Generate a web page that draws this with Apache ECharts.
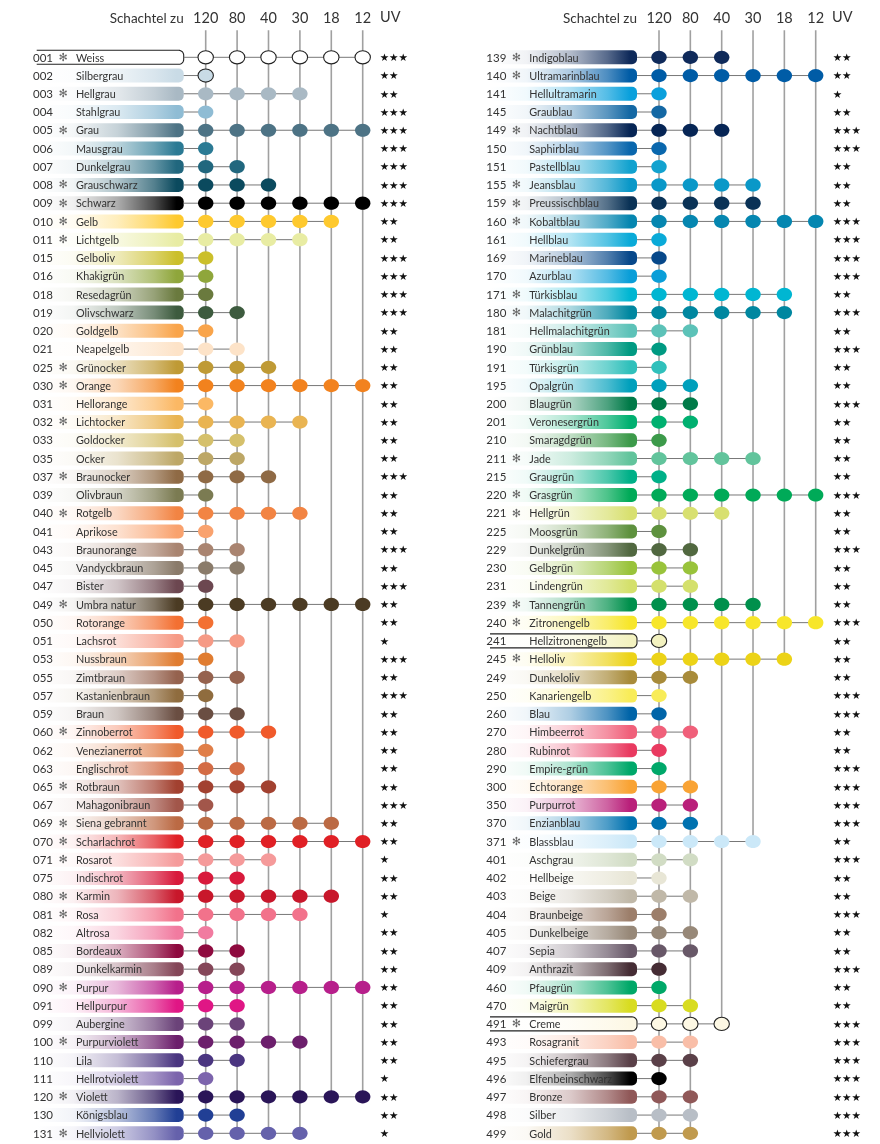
<!DOCTYPE html>
<html><head><meta charset="utf-8">
<script src="https://cdn.jsdelivr.net/npm/echarts@6/dist/echarts.min.js"></script>
<style>html,body{margin:0;padding:0;background:#fff}#c{width:880px;height:1144px}</style>
</head><body><div id="c"></div>
<script>
// ---------- DATA ----------
const boxLabels = ['120','80','40','30','18','12'];

const leftCodes = ['001','002','003','004','005','006','007','008','009','010','011','015','016','018','019','020','021','025','030','031','032','033','035','037','039','040','041','043','045','047','049','050','051','053','055','057','059','060','062','063','065','067','069','070','071','075','080','081','082','085','089','090','091','099','100','110','111','120','130','131'];
const leftNames = ['Weiss','Silbergrau','Hellgrau','Stahlgrau','Grau','Mausgrau','Dunkelgrau','Grauschwarz','Schwarz','Gelb','Lichtgelb','Gelboliv','Khakigrün','Resedagrün','Olivschwarz','Goldgelb','Neapelgelb','Grünocker','Orange','Hellorange','Lichtocker','Goldocker','Ocker','Braunocker','Olivbraun','Rotgelb','Aprikose','Braunorange','Vandyckbraun','Bister','Umbra natur','Rotorange','Lachsrot','Nussbraun','Zimtbraun','Kastanienbraun','Braun','Zinnoberrot','Venezianerrot','Englischrot','Rotbraun','Mahagonibraun','Siena gebrannt','Scharlachrot','Rosarot','Indischrot','Karmin','Rosa','Altrosa','Bordeaux','Dunkelkarmin','Purpur','Hellpurpur','Aubergine','Purpurviolett','Lila','Hellrotviolett','Violett','Königsblau','Hellviolett'];
const leftNew = [1,0,1,0,1,0,0,1,1,1,1,0,0,0,0,0,0,1,1,0,1,0,0,1,0,1,0,0,0,0,1,0,0,0,0,0,0,1,0,0,1,0,1,1,1,0,1,1,0,0,0,1,0,0,1,0,0,1,0,1];
const leftBoxes = [6,1,4,1,6,1,2,3,6,5,4,1,1,1,2,1,2,3,6,1,4,2,2,3,1,4,1,2,2,1,6,1,2,1,2,1,2,3,1,2,3,1,5,6,3,2,5,4,1,2,2,6,2,2,4,2,1,6,2,4];
const leftUV = [3,2,2,3,3,3,3,3,3,2,2,3,3,3,3,2,2,2,2,2,2,2,2,3,2,2,2,3,2,3,2,2,1,3,2,3,2,2,2,2,2,3,2,2,1,2,2,1,2,2,2,2,2,2,2,2,1,2,2,1];
const leftColors = ['#ffffff','#c9dbe6','#a9b9c4','#8fbcd4','#4d7385','#2b7a94','#21677e','#0b4a5e','#000000','#fec92e','#e8eca3','#cbbf2b','#8fa63b','#6a7a3e','#3d5b3e','#f9a44a','#fde3c8','#bf9a35','#f2821e','#fbb864','#e9b452','#d5c06b','#bda766','#8f6a45','#7b7b52','#f28443','#f9a26e','#a98470','#8a7b6a','#6c4750','#4b3b23','#f37032','#f69a85','#e07c30','#95624e','#8f6c3e','#6a4e42','#f05a2b','#e07e48','#d36c45','#a24130','#a2564a','#bb6a44','#e02025','#f59a9a','#d81a3c','#c8172b','#f2728b','#f17ba0','#8e0a3f','#844658','#b71f8b','#e01685','#6b4379','#6c1f6c','#4a3580','#7c64ac','#2a1558','#213f95','#6561ab'];

const rightCodes = ['139','140','141','145','149','150','151','155','159','160','161','169','170','171','180','181','190','191','195','200','201','210','211','215','220','221','225','229','230','231','239','240','241','245','249','250','260','270','280','290','300','350','370','371','401','402','403','404','405','407','409','460','470','491','493','495','496','497','498','499'];
const rightNames = ['Indigoblau','Ultramarinblau','Hellultramarin','Graublau','Nachtblau','Saphirblau','Pastellblau','Jeansblau','Preussischblau','Kobaltblau','Hellblau','Marineblau','Azurblau','Türkisblau','Malachitgrün','Hellmalachitgrün','Grünblau','Türkisgrün','Opalgrün','Blaugrün','Veronesergrün','Smaragdgrün','Jade','Graugrün','Grasgrün','Hellgrün','Moosgrün','Dunkelgrün','Gelbgrün','Lindengrün','Tannengrün','Zitronengelb','Hellzitronengelb','Helloliv','Dunkeloliv','Kanariengelb','Blau','Himbeerrot','Rubinrot','Empire-grün','Echtorange','Purpurrot','Enzianblau','Blassblau','Aschgrau','Hellbeige','Beige','Braunbeige','Dunkelbeige','Sepia','Anthrazit','Pfaugrün','Maigrün','Creme','Rosagranit','Schiefergrau','Elfenbeinschwarz','Bronze','Silber','Gold'];
const rightNew = [1,1,0,0,1,0,0,1,1,1,0,0,0,1,1,0,0,0,0,0,0,0,1,0,1,1,0,0,0,0,1,1,0,1,0,0,0,0,0,0,0,0,0,1,0,0,0,0,0,0,0,0,0,1,0,0,0,0,0,0];
const rightBoxes = [3,6,1,1,3,1,1,4,4,6,1,1,1,5,5,2,1,1,2,2,2,1,4,1,6,3,1,2,2,2,4,6,1,5,2,1,1,2,1,1,2,2,2,4,2,1,2,1,2,2,1,1,2,3,2,2,1,2,2,2];
const rightUV = [2,2,1,2,3,3,2,2,2,3,3,3,3,2,3,2,3,2,2,3,2,2,2,2,3,2,2,3,2,2,2,3,2,2,2,3,3,2,2,3,3,3,3,2,3,2,2,3,2,2,3,2,2,3,3,3,3,3,3,3];
const rightColors = ['#0f2a5a','#005ca6','#0aa0dc','#1468a4','#062555','#0a67ad','#12a2cf','#0a98c8','#0a3256','#0586b0','#0aaad8','#07488a','#0a9ed8','#00b6d2','#0087a0','#5cc2b8','#009a82','#30c0bb','#00a0bc','#007a48','#00b070','#3c9a4a','#62c49c','#00b088','#00aa58','#d8e070','#5e913e','#516840','#99c33b','#d4e06c','#00904c','#f7e62a','#f3f2c0','#ecd317','#a88b3a','#f8ec58','#0064a8','#f0607a','#e93a60','#00a86a','#f9a334','#b9207a','#0072b0','#cbe8f8','#d1dcc4','#e8e6d6','#c0b8a8','#9c7e6a','#978878','#685868','#452c34','#00a868','#d8dc20','#fdf8e4','#f9bea8','#5a4048','#000000','#905858','#b8bec6','#c09a4e'];

// style config
const outlinedDot = new Set(['001','002','241','491']);
const outlinedBar = new Set(['001','241','491']);

// ---------- RENDER ----------
const TXT = '#333333';
const FONT = 'Lato, "Open Sans", sans-serif';
function rgba(hex, a) {
  const n = parseInt(hex.slice(1), 16);
  return 'rgba(' + ((n >> 16) & 255) + ',' + ((n >> 8) & 255) + ',' + (n & 255) + ',' + a + ')';
}

function rowRenderer(codes, names, news, boxes, uv, colors) {
  return function (params, api) {
    const i = params.dataIndex;
    const p0 = api.coord([0, i]);
    const x0 = p0[0], y = p0[1];
    const n = boxes[i];
    const xLast = api.coord([n - 1, i])[0];
    const xUV = api.coord([5, i])[0] + 17;
    const c = colors[i];
    const code = codes[i];
    const R = x0 - 22, L = R - 147, T = y - 7, B = y + 7, r = 5;
    const grad = new echarts.graphic.LinearGradient(0, 0, 1, 0, [
      { offset: 0, color: rgba(c, 0) },
      { offset: 0.25, color: rgba(c, 0.06) },
      { offset: 0.55, color: rgba(c, 0.32) },
      { offset: 0.8, color: rgba(c, 0.7) },
      { offset: 0.95, color: rgba(c, 1) },
      { offset: 1, color: rgba(c, 1) }
    ]);
    const ch = [];
    ch.push({ type: 'rect', shape: { x: L, y: T, width: R - L, height: B - T, r: [0, r, r, 0] }, style: { fill: grad } });
    if (outlinedBar.has(code)) {
      const pts = [[L, T], [R - r, T]];
      for (let a = 1; a < 8; a++) { const t = -Math.PI / 2 + a * Math.PI / 16; pts.push([R - r + r * Math.cos(t), T + r + r * Math.sin(t)]); }
      pts.push([R, T + r], [R, B - r]);
      for (let a = 1; a < 8; a++) { const t = a * Math.PI / 16; pts.push([R - r + r * Math.cos(t), B - r + r * Math.sin(t)]); }
      pts.push([R - r, B], [L, B]);
      ch.push({ type: 'polyline', shape: { points: pts }, style: { fill: null, stroke: '#222', lineWidth: 1.1 } });
    }
    ch.push({ type: 'line', shape: { x1: R, y1: y, x2: xLast, y2: y }, style: { stroke: '#777', lineWidth: 1 } });
    for (let k = 0; k < n; k++) {
      const cx = api.coord([k, i])[0];
      const od = outlinedDot.has(code);
      ch.push({ type: 'ellipse', shape: { cx: cx, cy: y, rx: 7.7, ry: 6.6 },
        style: { fill: c, stroke: od ? '#222' : null, lineWidth: od ? 1.1 : 0 } });
    }
    ch.push({ type: 'text', style: { text: code, x: x0 - 172.7, y: y + 0.5, fill: TXT, font: '11.5px ' + FONT, align: 'left', verticalAlign: 'middle' } });
    if (news[i]) ch.push({ type: 'text', style: { text: '✻', x: x0 - 142.7, y: y + 0.5, fill: '#666', font: '11px "DejaVu Sans"', align: 'center', verticalAlign: 'middle' } });
    ch.push({ type: 'text', x: x0 - 129.7, y: y + 0.5, scaleX: 0.94,
      style: { text: names[i], x: 0, y: 0, fill: TXT, font: '11.5px ' + FONT, align: 'left', verticalAlign: 'middle' } });
    ch.push({ type: 'text', style: { text: '★'.repeat(uv[i]), x: xUV, y: y + 1, fill: '#111', font: '10.5px "DejaVu Sans"', align: 'left', verticalAlign: 'middle' } });
    return { type: 'group', children: ch };
  };
}

function vlineRenderer(lastRows) {
  return function (params, api) {
    const k = params.dataIndex;
    const p = api.coord([k, lastRows[k]]);
    return { type: 'line', shape: { x1: p[0], y1: params.coordSys.y - 27, x2: p[0], y2: p[1] },
      style: { stroke: '#a0a0a0', lineWidth: 1.6 } };
  };
}

function lastRowsOf(boxes) {
  return boxLabels.map((_, k) => { let last = 0; boxes.forEach((b, i) => { if (b > k) last = i; }); return last; });
}

function makeAxes(gridIndex, codes) {
  const xa = {
    type: 'value', gridIndex: gridIndex, min: 0, max: 5, interval: 1, position: 'top', offset: 39,
    axisLine: { show: false }, axisTick: { show: false }, splitLine: { show: false },
    axisLabel: { margin: 0, verticalAlign: 'middle', fontSize: 14.5, color: TXT, fontFamily: FONT, formatter: v => boxLabels[v] },
    name: 'Schachtel zu', nameLocation: 'start', nameGap: 22,
    nameTextStyle: { fontSize: 13.5, color: TXT, fontFamily: FONT, verticalAlign: 'middle', align: 'right' }
  };
  const ya = { type: 'category', gridIndex: gridIndex, data: codes, inverse: true, boundaryGap: false, show: false };
  return [xa, ya];
}

const [xl, yl] = makeAxes(0, leftCodes);
const [xr, yr] = makeAxes(1, rightCodes);

const chart = echarts.init(document.getElementById('c'), null, { renderer: 'canvas' });
chart.setOption({
  animation: false,
  backgroundColor: '#ffffff',
  grid: [
    { left: 205.7, top: 57.3, width: 157, height: 1076, outerBoundsMode: 'none' },
    { left: 659, top: 57.3, width: 156.7, height: 1076, outerBoundsMode: 'none' }
  ],
  xAxis: [xl, xr],
  yAxis: [yl, yr],
  graphic: [
    { type: 'text', left: 380, top: 10, style: { text: 'UV', fill: TXT, font: '14.5px ' + FONT } },
    { type: 'text', left: 832, top: 10, style: { text: 'UV', fill: TXT, font: '14.5px ' + FONT } }
  ],
  series: [
    { type: 'custom', xAxisIndex: 0, yAxisIndex: 0, z: 1, clip: false, silent: true,
      data: boxLabels.map((_, k) => [k, lastRowsOf(leftBoxes)[k]]), renderItem: vlineRenderer(lastRowsOf(leftBoxes)) },
    { type: 'custom', xAxisIndex: 1, yAxisIndex: 1, z: 1, clip: false, silent: true,
      data: boxLabels.map((_, k) => [k, lastRowsOf(rightBoxes)[k]]), renderItem: vlineRenderer(lastRowsOf(rightBoxes)) },
    { type: 'custom', xAxisIndex: 0, yAxisIndex: 0, z: 2, clip: false, silent: true,
      data: leftCodes.map((c, i) => [0, i]), renderItem: rowRenderer(leftCodes, leftNames, leftNew, leftBoxes, leftUV, leftColors) },
    { type: 'custom', xAxisIndex: 1, yAxisIndex: 1, z: 2, clip: false, silent: true,
      data: rightCodes.map((c, i) => [0, i]), renderItem: rowRenderer(rightCodes, rightNames, rightNew, rightBoxes, rightUV, rightColors) }
  ]
});
</script>
</body></html>
